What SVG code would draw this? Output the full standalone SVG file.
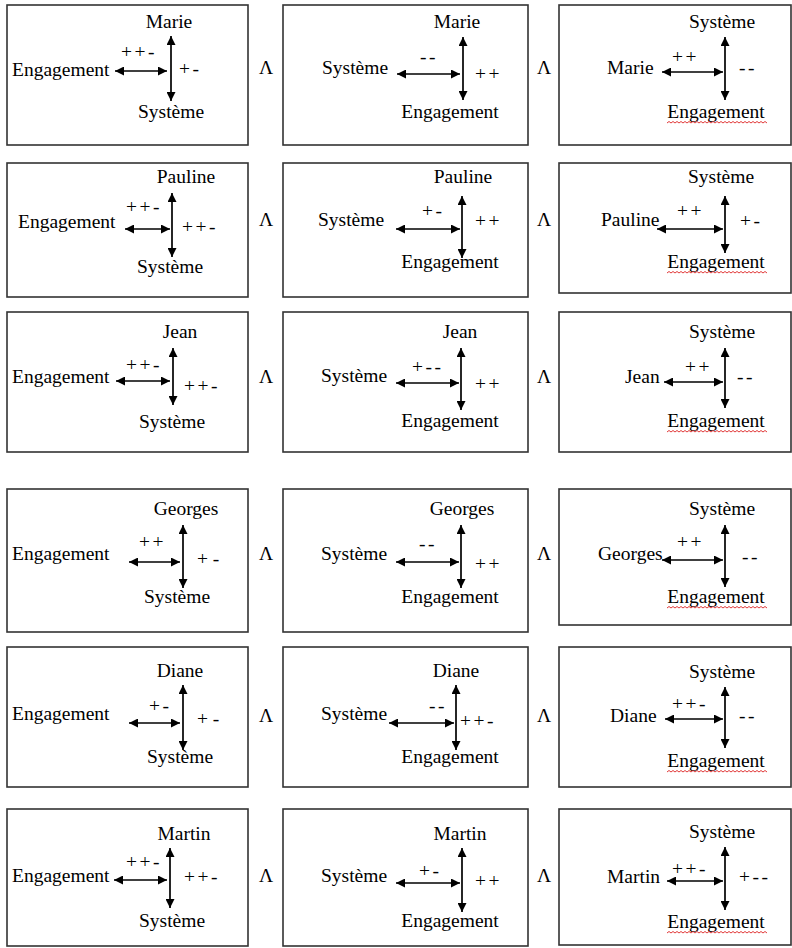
<svg xmlns="http://www.w3.org/2000/svg" width="792" height="948" viewBox="0 0 792 948">
<style>
.box{fill:#fff;stroke:#333;stroke-width:1.6}
text{font-family:"Liberation Serif","Times New Roman",serif;font-size:19.5px;fill:#000}
.m{text-anchor:middle}
.s{letter-spacing:2.5px}
.ar{stroke:#000;stroke-width:1.7;fill:none;marker-start:url(#ah);marker-end:url(#ah)}
.sq{fill:none;stroke:#d22;stroke-width:0.9}
</style>
<defs>
<marker id="ah" viewBox="0 0 10 10" refX="10" refY="5" markerWidth="10" markerHeight="9" markerUnits="userSpaceOnUse" orient="auto-start-reverse"><path d="M0,0 L10,5 L0,10 z" fill="#000"/></marker>
<path id="squig" d="M0,0 l2,-1.5 l2,1.5 l2,-1.5 l2,1.5 l2,-1.5 l2,1.5 l2,-1.5 l2,1.5 l2,-1.5 l2,1.5 l2,-1.5 l2,1.5 l2,-1.5 l2,1.5 l2,-1.5 l2,1.5 l2,-1.5 l2,1.5 l2,-1.5 l2,1.5 l2,-1.5 l2,1.5 l2,-1.5 l2,1.5 l2,-1.5 l2,1.5 l2,-1.5 l2,1.5 l2,-1.5 l2,1.5 l2,-1.5 l2,1.5 l2,-1.5 l2,1.5 l2,-1.5 l2,1.5 l2,-1.5 l2,1.5 l2,-1.5 l2,1.5 l2,-1.5 l2,1.5 l2,-1.5 l2,1.5 l2,-1.5 l2,1.5 l2,-1.5 l2,1.5 l2,-1.5 l2,1.5"/>
</defs>
<rect width="792" height="948" fill="#fff"/>

<!-- Row 1 -->
<g id="marie-1">
<rect class="box" x="7" y="5" width="241" height="140"/>
<text class="m" x="169" y="28">Marie</text>
<text x="12" y="76">Engagement</text>
<text class="s" x="121" y="58">++-</text>
<text class="s" x="179" y="75">+-</text>
<text class="m" x="171" y="118">Système</text>
</g>
<g id="marie-2">
<rect class="box" x="283" y="5" width="245" height="140"/>
<text class="m" x="457" y="28">Marie</text>
<text x="322" y="74">Système</text>
<text class="s" x="420" y="63">--</text>
<text class="s" x="475" y="80">++</text>
<text class="m" x="450" y="118">Engagement</text>
</g>
<g id="marie-3">
<rect class="box" x="559" y="5" width="232" height="140"/>
<text class="m" x="722" y="28">Système</text>
<text x="607" y="74">Marie</text>
<text class="s" x="672" y="63">++</text>
<text class="s" x="739" y="74">--</text>
<text class="m" x="716" y="118">Engagement</text>
<use href="#squig" class="sq" x="667" y="123"/>
</g>

<!-- Row 2 -->
<g id="pauline-1">
<rect class="box" x="7" y="163" width="241" height="134"/>
<text class="m" x="186" y="183">Pauline</text>
<text x="18" y="228">Engagement</text>
<text class="s" x="126" y="213">++-</text>
<text class="s" x="182" y="233">++-</text>
<text class="m" x="170" y="273">Système</text>
</g>
<g id="pauline-2">
<rect class="box" x="283" y="163" width="245" height="134"/>
<text class="m" x="463" y="183">Pauline</text>
<text x="318" y="226">Système</text>
<text class="s" x="422" y="217">+-</text>
<text class="s" x="475" y="227">++</text>
<text class="m" x="450" y="268">Engagement</text>
</g>
<g id="pauline-3">
<rect class="box" x="559" y="163" width="232" height="130"/>
<text class="m" x="721" y="183">Système</text>
<text x="601" y="226">Pauline</text>
<text class="s" x="677" y="217">++</text>
<text class="s" x="740" y="227">+-</text>
<text class="m" x="716" y="268">Engagement</text>
<use href="#squig" class="sq" x="667" y="273"/>
</g>

<!-- Row 3 -->
<g id="jean-1">
<rect class="box" x="7" y="312" width="241" height="140"/>
<text class="m" x="180" y="338">Jean</text>
<text x="12" y="383">Engagement</text>
<text class="s" x="126" y="371">++-</text>
<text class="s" x="184" y="392">++-</text>
<text class="m" x="172" y="428">Système</text>
</g>
<g id="jean-2">
<rect class="box" x="283" y="312" width="245" height="140"/>
<text class="m" x="460" y="338">Jean</text>
<text x="321" y="382">Système</text>
<text class="s" x="412" y="373">+--</text>
<text class="s" x="475" y="390">++</text>
<text class="m" x="450" y="427">Engagement</text>
</g>
<g id="jean-3">
<rect class="box" x="559" y="312" width="232" height="140"/>
<text class="m" x="722" y="338">Système</text>
<text x="625" y="383">Jean</text>
<text class="s" x="685" y="373">++</text>
<text class="s" x="737" y="383">--</text>
<text class="m" x="716" y="427">Engagement</text>
<use href="#squig" class="sq" x="667" y="432"/>
</g>

<!-- Row 4 -->
<g id="georges-1">
<rect class="box" x="7" y="489" width="241" height="143"/>
<text class="m" x="186" y="515">Georges</text>
<text x="12" y="560">Engagement</text>
<text class="s" x="139" y="548">++</text>
<text x="197" y="565">+ -</text>
<text class="m" x="177" y="603">Système</text>
</g>
<g id="georges-2">
<rect class="box" x="283" y="489" width="245" height="143"/>
<text class="m" x="462" y="515">Georges</text>
<text x="321" y="560">Système</text>
<text class="s" x="419" y="550">--</text>
<text class="s" x="475" y="570">++</text>
<text class="m" x="450" y="603">Engagement</text>
</g>
<g id="georges-3">
<rect class="box" x="559" y="489" width="232" height="136"/>
<text class="m" x="722" y="515">Système</text>
<text x="598" y="560">Georges</text>
<text class="s" x="677" y="548">++</text>
<text class="s" x="742" y="563">--</text>
<text class="m" x="716" y="603">Engagement</text>
<use href="#squig" class="sq" x="667" y="608"/>
</g>

<!-- Row 5 -->
<g id="diane-1">
<rect class="box" x="7" y="647" width="241" height="140"/>
<text class="m" x="180" y="677">Diane</text>
<text x="12" y="720">Engagement</text>
<text class="s" x="149" y="712">+-</text>
<text x="197" y="725">+ -</text>
<text class="m" x="180" y="763">Système</text>
</g>
<g id="diane-2">
<rect class="box" x="283" y="647" width="245" height="140"/>
<text class="m" x="456" y="677">Diane</text>
<text x="321" y="720">Système</text>
<text class="s" x="429" y="712">--</text>
<text class="s" x="460" y="727">++-</text>
<text class="m" x="450" y="763">Engagement</text>
</g>
<g id="diane-3">
<rect class="box" x="559" y="647" width="232" height="140"/>
<text class="m" x="722" y="678">Système</text>
<text x="610" y="722">Diane</text>
<text class="s" x="672" y="710">++-</text>
<text class="s" x="739" y="722">--</text>
<text class="m" x="716" y="767">Engagement</text>
<use href="#squig" class="sq" x="667" y="772"/>
</g>

<!-- Row 6 -->
<g id="martin-1">
<rect class="box" x="7" y="809" width="241" height="137"/>
<text class="m" x="184" y="840">Martin</text>
<text x="12" y="882">Engagement</text>
<text class="s" x="126" y="868">++-</text>
<text class="s" x="184" y="883">++-</text>
<text class="m" x="172" y="927">Système</text>
</g>
<g id="martin-2">
<rect class="box" x="283" y="809" width="245" height="137"/>
<text class="m" x="460" y="840">Martin</text>
<text x="321" y="882">Système</text>
<text class="s" x="419" y="877">+-</text>
<text class="s" x="475" y="887">++</text>
<text class="m" x="450" y="927">Engagement</text>
</g>
<g id="martin-3">
<rect class="box" x="559" y="809" width="232" height="136"/>
<text class="m" x="722" y="838">Système</text>
<text x="607" y="883">Martin</text>
<text class="s" x="672" y="875">++-</text>
<text class="s" x="739" y="883">+--</text>
<text class="m" x="716" y="928">Engagement</text>
<use href="#squig" class="sq" x="667" y="933"/>
</g>

<!-- conjunction symbols -->
<g id="conjunctions">
<text class="m" x="266" y="74">Λ</text><text class="m" x="544" y="74">Λ</text>
<text class="m" x="266" y="226">Λ</text><text class="m" x="544" y="226">Λ</text>
<text class="m" x="266" y="383">Λ</text><text class="m" x="544" y="383">Λ</text>
<text class="m" x="266" y="560">Λ</text><text class="m" x="544" y="560">Λ</text>
<text class="m" x="266" y="722">Λ</text><text class="m" x="544" y="722">Λ</text>
<text class="m" x="266" y="882">Λ</text><text class="m" x="544" y="882">Λ</text>
</g>

<g id="connectors">
<!-- row 1 -->
<line class="ar" x1="171" y1="36" x2="171" y2="101"/>
<line class="ar" x1="115" y1="71" x2="167" y2="71"/>
<line class="ar" x1="463" y1="37" x2="463" y2="100"/>
<line class="ar" x1="397" y1="74" x2="460" y2="74"/>
<line class="ar" x1="725" y1="37" x2="725" y2="100"/>
<line class="ar" x1="662" y1="72" x2="723" y2="72"/>
<!-- row 2 -->
<line class="ar" x1="172" y1="193" x2="172" y2="257"/>
<line class="ar" x1="125" y1="229" x2="170" y2="229"/>
<line class="ar" x1="462" y1="196" x2="462" y2="258"/>
<line class="ar" x1="396" y1="229" x2="460" y2="229"/>
<line class="ar" x1="725" y1="196" x2="725" y2="253"/>
<line class="ar" x1="657" y1="229" x2="723" y2="229"/>
<!-- row 3 -->
<line class="ar" x1="173" y1="348" x2="173" y2="405"/>
<line class="ar" x1="116" y1="381" x2="170" y2="381"/>
<line class="ar" x1="461" y1="348" x2="461" y2="410"/>
<line class="ar" x1="396" y1="383" x2="459" y2="383"/>
<line class="ar" x1="725" y1="348" x2="725" y2="408"/>
<line class="ar" x1="664" y1="382" x2="723" y2="382"/>
<!-- row 4 -->
<line class="ar" x1="183" y1="525" x2="183" y2="588"/>
<line class="ar" x1="129" y1="562" x2="180" y2="562"/>
<line class="ar" x1="461" y1="525" x2="461" y2="588"/>
<line class="ar" x1="396" y1="562" x2="459" y2="562"/>
<line class="ar" x1="725" y1="525" x2="725" y2="587"/>
<line class="ar" x1="662" y1="560" x2="723" y2="560"/>
<!-- row 5 -->
<line class="ar" x1="183" y1="685" x2="183" y2="750"/>
<line class="ar" x1="129" y1="723" x2="180" y2="723"/>
<line class="ar" x1="456" y1="685" x2="456" y2="750"/>
<line class="ar" x1="389" y1="723" x2="454" y2="723"/>
<line class="ar" x1="725" y1="687" x2="725" y2="748"/>
<line class="ar" x1="665" y1="719" x2="723" y2="719"/>
<!-- row 6 -->
<line class="ar" x1="170" y1="848" x2="170" y2="908"/>
<line class="ar" x1="114" y1="880" x2="167" y2="880"/>
<line class="ar" x1="462" y1="848" x2="462" y2="912"/>
<line class="ar" x1="396" y1="883" x2="460" y2="883"/>
<line class="ar" x1="725" y1="847" x2="725" y2="910"/>
<line class="ar" x1="667" y1="881" x2="723" y2="881"/>
</g>
</svg>
